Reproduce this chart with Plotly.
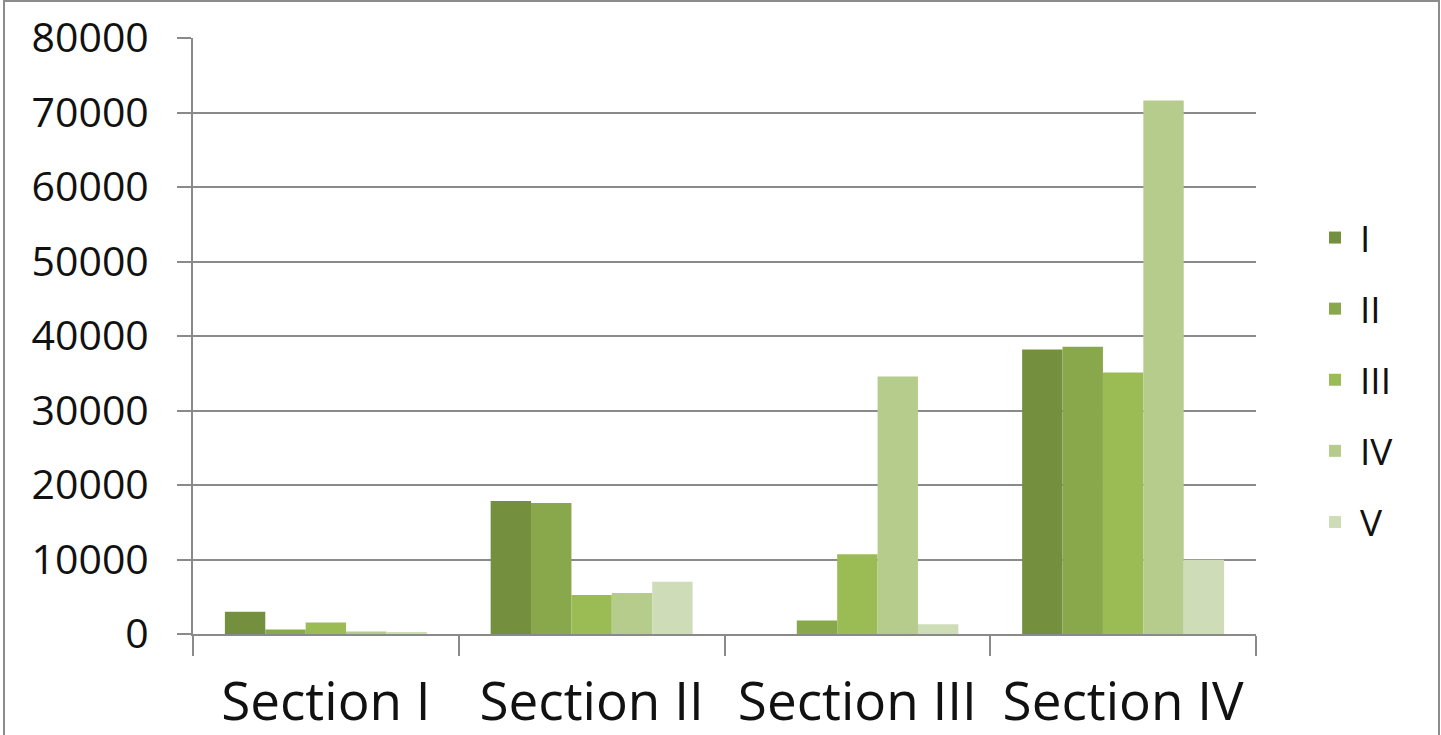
import plotly.graph_objects as go

categories = ["Section I", "Section II", "Section III", "Section IV"]
series_names = ["I", "II", "III", "IV", "V"]
values_I = [3000, 17850, 0, 38200]
values_II = [600, 17600, 1800, 38550]
values_III = [1550, 5250, 10700, 35100]
values_IV = [350, 5500, 34550, 71600]
values_V = [250, 7000, 1300, 9950]
series_values = [values_I, values_II, values_III, values_IV, values_V]
colors = ["#74903e", "#89a74b", "#9bbc55", "#b6cc8d", "#cfdcb8"]
y_ticks = [0, 10000, 20000, 30000, 40000, 50000, 60000, 70000, 80000]

W, H = 1441, 735
L, R, T, B = 193, 185, 38, 101
pw, ph = W - L - R, H - T - B

fig = go.Figure()
for i, (name, vals) in enumerate(zip(series_names, series_values)):
    fig.add_trace(go.Bar(
        x=categories, y=vals, name=name, legendgroup=name,
        marker=dict(color=colors[i], line=dict(width=0)),
    ))

gray = "#8a8a8a"
font_family = "Open Sans, Noto Sans, DejaVu Sans, sans-serif"

fig.update_layout(
    width=W, height=H, autosize=False,
    margin=dict(l=L, r=R, t=T, b=B, pad=0, autoexpand=False),
    paper_bgcolor="white", plot_bgcolor="white",
    barmode="group", bargap=0.24, bargroupgap=0,
    font=dict(family=font_family, color="#111111"),
    legend=dict(
        x=(1310 - L) / pw, xanchor="left",
        y=(634 - 380) / ph, yanchor="middle",
        font=dict(size=37, family=font_family, color="#111111"),
        traceorder="grouped", tracegroupgap=20, itemwidth=40,
        bgcolor="rgba(0,0,0,0)",
    ),
    xaxis=dict(
        type="category", showline=True, linecolor=gray, linewidth=2,
        ticks="outside", tickson="boundaries", ticklen=20, tickcolor=gray, tickwidth=2,
        tickfont=dict(size=53, family=font_family, color="#111111"),
        ticklabelstandoff=20, automargin=False,
        showgrid=False,
    ),
    yaxis=dict(
        range=[0, 80000], tickvals=y_ticks, tickformat="d",
        showline=True, linecolor=gray, linewidth=2,
        ticks="outside", ticklen=14, tickcolor=gray, tickwidth=2,
        showgrid=True, gridcolor=gray, gridwidth=2,
        zeroline=False, automargin=False,
        tickfont=dict(size=41, family=font_family, color="#111111"),
        ticklabelstandoff=20,
    ),
    shapes=[dict(
        type="rect", xref="paper", yref="paper",
        x0=(4 - L) / pw, x1=(1439 - L) / pw,
        y0=(634 - 770) / ph, y1=(634 - 1) / ph,
        line=dict(color="#8c8c8c", width=2), fillcolor="rgba(0,0,0,0)", layer="below",
    )],
)

fig.write_html("out.html", config={"displayModeBar": False},
               post_script="document.body.style.margin='0';")
